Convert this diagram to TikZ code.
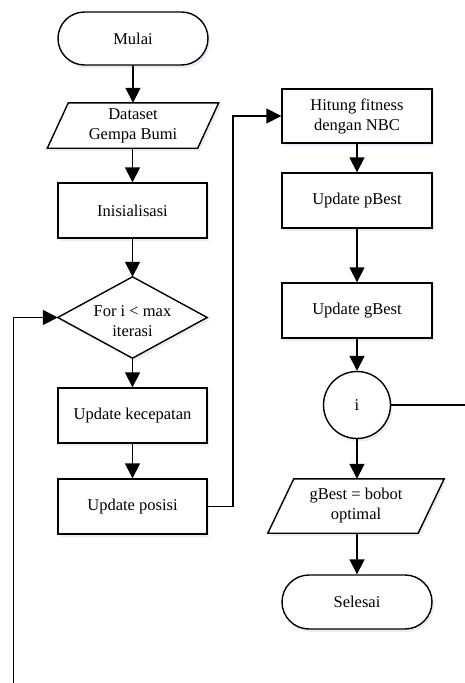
\documentclass[tikz,border=0pt]{standalone}
\usepackage{fontspec}
\setmainfont{Liberation Serif}
\usetikzlibrary{arrows.meta,shapes.misc,shadows}
\definecolor{shadowc}{RGB}{232,238,248}
\begin{document}
\begin{tikzpicture}[x=1pt,y=-1pt,
  every node/.style={font=\fontsize{16.5}{20}\selectfont, align=center, inner sep=0pt},
  sh/.style={drop shadow={shadow xshift=2pt,shadow yshift=-3pt,fill=shadowc,opacity=1}},
  procbox/.style={draw, line width=1.4pt, fill=white, sh, minimum width=149pt, minimum height=55pt},
  termbox/.style={draw, line width=1.4pt, fill=white, sh, rounded rectangle, minimum width=150pt, minimum height=53pt},
  body/.style={minimum width=150pt},
  outline/.style={draw, line width=1.4pt, fill=white, sh, line join=miter},
  conn/.style={line width=1.7pt, -{Triangle[width=15pt,length=15pt]}},
  plain/.style={line width=1.7pt}
]
\useasboundingbox (0,0) rectangle (465,683);

% left column
\node[termbox] (mulai) at (133,38.5) {Mulai};
\node[body, minimum height=45pt] (data) at (133,125.5) {};
\node[procbox] (init) at (132.5,210.5) {Inisialisasi};
\node[minimum width=149pt, minimum height=81pt] (for) at (132.5,317.5) {};
\node[procbox] (kec) at (132.5,415.5) {Update kecepatan};
\node[procbox] (pos) at (132.5,506.5) {Update posisi};

% right column
\node[procbox, minimum width=150pt, minimum height=54pt] (hit) at (357,116) {Hitung fitness\\dengan NBC};
\node[procbox, minimum width=150pt] (pb) at (357,200.5) {Update pBest};
\node[procbox, minimum width=150pt] (gb) at (357,310.5) {Update gBest};
\node[draw, circle, line width=1.4pt, fill=white, sh, minimum size=67pt] (i) at (357,405) {i};
\node[body, minimum height=54pt] (gopt) at (356,506) {};
\node[termbox, minimum height=54pt] (sel) at (357,602) {Selesai};

% parallelograms and diamond outlines
\path[outline] ([xshift=10.5pt]data.north west) -- ([xshift=10.5pt]data.north east)
  -- ([xshift=-10.5pt]data.south east) -- ([xshift=-10.5pt]data.south west) -- cycle;
\node (datatext) at (data) {Dataset\\Gempa Bumi};
\path[outline] ([xshift=13pt]gopt.north west) -- ([xshift=13pt]gopt.north east)
  -- ([xshift=-13pt]gopt.south east) -- ([xshift=-13pt]gopt.south west) -- cycle;
\node (gopttext) at (gopt) {gBest = bobot\\optimal};
\path[outline] (for.north) -- (for.east) -- (for.south) -- (for.west) -- cycle;
\node (fortext) at ([yshift=-4pt]for.center) {For i < max\\iterasi};

% free ends
\coordinate (rightend) at (465,405);
\coordinate (bottomend) at (13.5,683);

% connectors
\draw[conn] (mulai) -- (data);
\draw[conn] ([xshift=-0.5pt]data.south) -- (init);
\draw[conn] (init) -- (for.north);
\draw[conn] (for.south) -- (kec);
\draw[conn] (kec) -- (pos);
\draw[conn] (pos.east) -- ++(25,0) |- (hit.west);
\draw[conn] (hit) -- (pb);
\draw[conn] (pb) -- (gb);
\draw[conn] (gb) -- (i);
\draw[conn] (i) -- ([xshift=1pt]gopt.north);
\draw[conn] ([xshift=1pt]gopt.south) -- (sel);
\draw[plain] (i.east) -- (rightend);
\draw[conn] (bottomend) |- (for.west);
\end{tikzpicture}
\end{document}
